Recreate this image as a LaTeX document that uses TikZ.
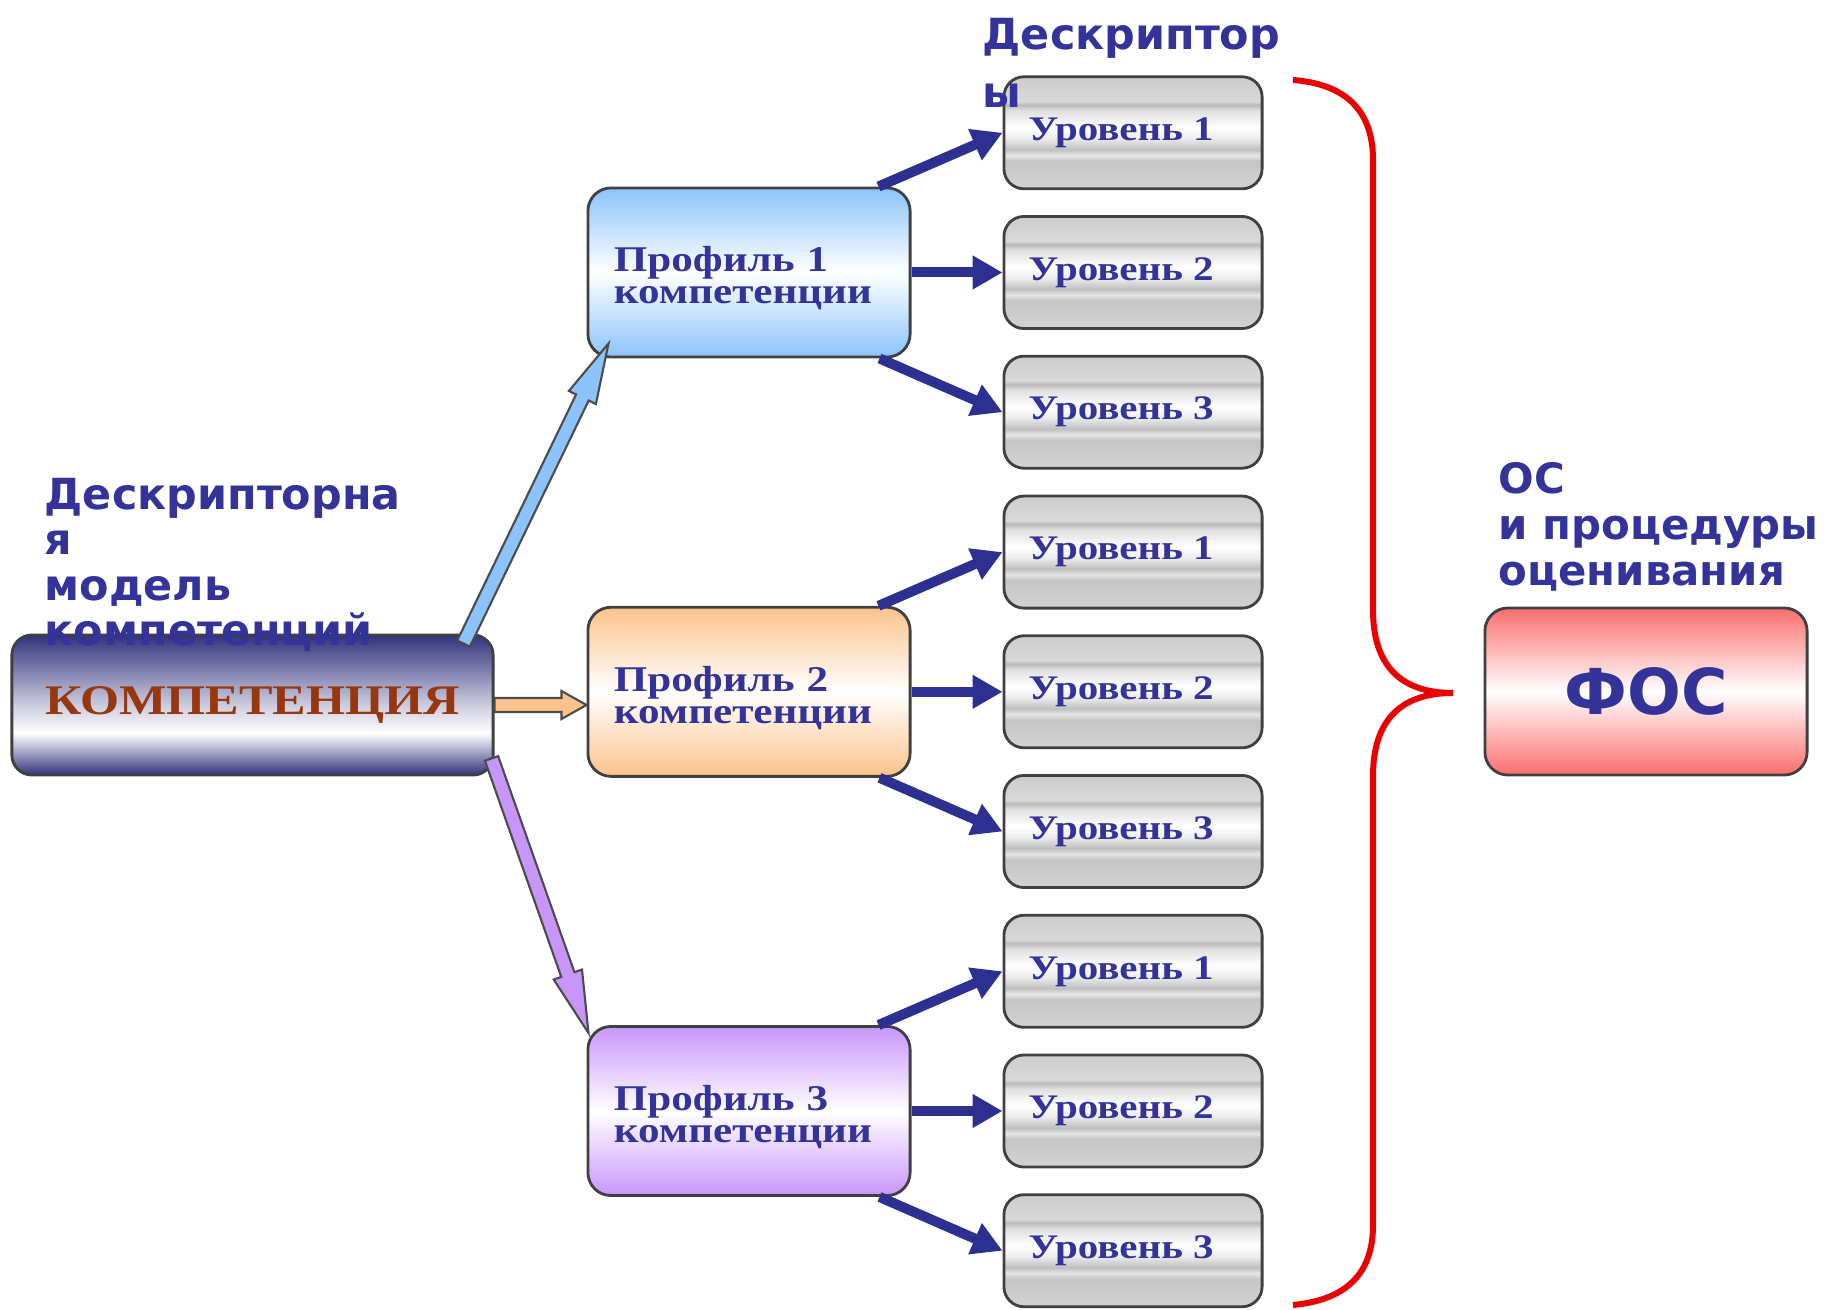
\documentclass[tikz,border=0pt]{standalone}
\usepackage{fontspec}
\setmainfont{Liberation Serif}
\newfontfamily\sansb{DejaVu Sans}
\newfontfamily\serifw{Liberation Serif}[FakeStretch=1.19]
\usepackage{tikz}
\usetikzlibrary{calc}
\usetikzlibrary{arrows.meta}
\usetikzlibrary{positioning}
\tikzstyle{line} = [draw=arrnavy, line width=0.1cm, -{Triangle[length=0.3cm,width=0.32cm]}]
\tikzstyle{blockline} = [draw=black!70, line width=0.6pt]
\definecolor{tnavy}{RGB}{51,51,153}
\definecolor{arrnavy}{RGB}{45,48,145}
\definecolor{kompnavy}{RGB}{50,50,125}
\definecolor{kompbrown}{RGB}{150,55,15}
\definecolor{profblue}{RGB}{140,195,250}
\definecolor{profpeach}{RGB}{252,195,140}
\definecolor{profviolet}{RGB}{200,150,250}
\definecolor{fosred}{RGB}{250,110,110}
\definecolor{bracered}{RGB}{235,0,0}
\pgfdeclareverticalshading{metal}{100bp}{color(0bp)=(gray!35); color(25bp)=(gray!35);
  color(37.5bp)=(gray!45); color(40bp)=(gray!20); color(42.5bp)=(gray!50);
  color(47.5bp)=(gray!15); color(52.5bp)=(white); color(60bp)=(gray!25);
  color(62.5bp)=(gray!55); color(64bp)=(gray!30); color(75bp)=(gray!40); color(100bp)=(gray!40)}
\pgfdeclareverticalshading{kompshade}{100bp}{color(0bp)=(kompnavy); color(25bp)=(kompnavy);
  color(40bp)=(white); color(50bp)=(kompnavy!25); color(65bp)=(kompnavy!70);
  color(75bp)=(kompnavy); color(100bp)=(kompnavy)}
% block arrow: start, tip, fill, head length, head half width
\newcommand{\blockarrow}[5]{%
  \coordinate (ba) at ($(#2)!#4!(#1)$);
  \filldraw[blockline, fill=#3] ($(#1)!0.07cm!-90:(#2)$) -- ($(ba)!0.07cm!90:(#1)$)
    -- ($(ba)!#5!90:(#1)$) -- (#2) -- ($(ba)!#5!-90:(#1)$)
    -- ($(ba)!0.07cm!-90:(#1)$) -- ($(#1)!0.07cm!90:(#2)$) -- cycle;}

\begin{document}
\begin{tikzpicture}[x=0.01cm, y=-0.01cm,
	level/.style = {draw=black!75, thick, rounded corners=0.2cm, shading=metal,
		minimum width=2.58cm, minimum height=1.12cm, text=tnavy,
		font=\serifw\bfseries\fontsize{9.8}{10}\selectfont},
	prof/.style = {draw=black!75, thick, rounded corners=0.23cm, minimum height=1.69cm,
		text width=2.7cm, inner xsep=0.26cm, align=left, text=tnavy,
		top color=#1, bottom color=#1, middle color=white,
		font=\serifw\bfseries\fontsize{10.3}{9.1}\selectfont},
	label/.style = {anchor=north west, inner sep=0pt, align=left, text=tnavy}]
	
	\useasboundingbox (0,0) rectangle (1825,1310);
	
	% Competence
	\node[draw=black!75, thick, rounded corners=0.2cm, minimum width=4.81cm, minimum height=1.4cm,
		shading=kompshade, text=kompbrown,
		font=\serifw\bfseries\fontsize{12}{14}\selectfont] (komp) at (252.5,705)
		{\raisebox{-0.05cm}{КОМПЕТЕНЦИЯ}};
	
	% Profiles
	\node[prof=profblue] (p1) at (749,272.5) {\rule{0pt}{10.6pt}Профиль 1\\компетенции};
	\node[prof=profpeach] (p2) at (749,691.8) {\rule{0pt}{10.6pt}Профиль 2\\компетенции};
	\node[prof=profviolet] (p3) at (749,1111) {\rule{0pt}{10.6pt}Профиль 3\\компетенции};
	
	% Levels
	\foreach \p in {1,2,3}{
		\foreach \j/\dy in {1/-139.7, 2/0, 3/139.7}{
			\node[level] (lv\p\j) at ($(p\p.center)+(384,\dy)$) {\hspace*{-0.24cm}Уровень \j};
		}
		\draw[line] ($(p\p.north east)+(-33,0)$) -- (lv\p1.west);
		\draw[line] (p\p.east) -- (lv\p2.west);
		\draw[line] ($(p\p.south east)+(-32,0)$) -- (lv\p3.west);
	}
	
	% Arrows to profiles
	\coordinate (ka1) at ($(komp.north east)+(-31,10)$);
	\coordinate (pa1) at ($(p1.south west)+(22,-15)$);
	\coordinate (ka2) at (komp.east);
	\coordinate (pa2) at (p2.west |- komp.east);
	\coordinate (ka3) at ($(komp.south east)+(-3,-18)$);
	\coordinate (pa3) at ($(p3.north west)+(2,8)$);
	\blockarrow{ka1}{pa1}{profblue}{0.6cm}{0.15cm}
	\blockarrow{ka2}{pa2}{profpeach}{0.25cm}{0.14cm}
	\blockarrow{ka3}{pa3}{profviolet}{0.62cm}{0.15cm}
	
	% FOS
	\node[draw=black!75, thick, rounded corners=0.23cm, minimum width=3.22cm, minimum height=1.67cm,
		top color=fosred, bottom color=fosred, middle color=white, text=tnavy,
		font=\sansb\bfseries\fontsize{18}{20}\selectfont] (fos) at (1646,691.5) {ФОС};
	
	% Brace
	\draw[bracered, line width=0.06cm] (1293,80) .. controls (1345,84) and (1373,110) .. (1373,160)
		-- (1373,610) .. controls (1373,665) and (1400,693) .. (1453,693)
		.. controls (1400,693) and (1373,721) .. (1373,776)
		-- (1373,1225) .. controls (1373,1275) and (1345,1300) .. (1293,1305);
	
	% Labels
	\node[label, font=\sansb\bfseries\fontsize{12.2}{12.8}\selectfont] (model) at (44,478)
		{Дескрипторна\\я\\модель\\компетенций};
	\node[label, font=\sansb\bfseries\fontsize{12.2}{16.5}\selectfont] (descr) at (982,18)
		{Дескриптор\\ы};
	\node[label, font=\sansb\bfseries\fontsize{11.9}{13.1}\selectfont] (osp) at (1498,462)
		{ОС\\и процедуры\\оценивания};
	
\end{tikzpicture}
\end{document}
